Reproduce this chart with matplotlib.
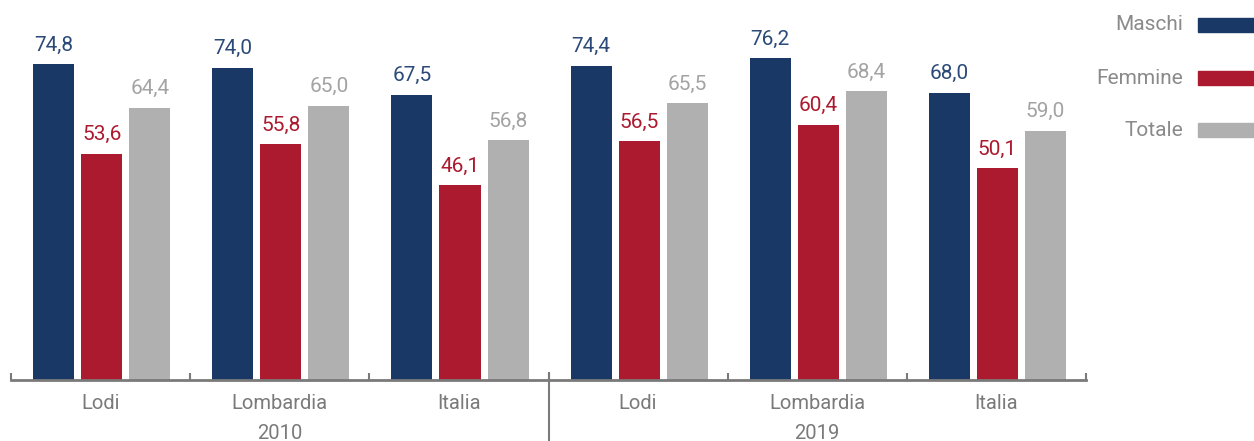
import matplotlib.pyplot as plt
from matplotlib.patches import Rectangle
import numpy as np

plt.rcParams['font.family'] = ['Roboto', 'DejaVu Sans']

places = ["Lodi", "Lombardia", "Italia", "Lodi", "Lombardia", "Italia"]
years = ["2010", "2019"]
series = ["Maschi", "Femmine", "Totale"]
maschi = [74.8, 74.0, 67.5, 74.4, 76.2, 68.0]
femmine = [53.6, 55.8, 46.1, 56.5, 60.4, 50.1]
totale = [64.4, 65.0, 56.8, 65.5, 68.4, 59.0]

bar_colors = ["#1a3865", "#ab1a2f", "#b0b0b0"]
text_colors = ["#2c4a78", "#ab1a2f", "#a3a3a3"]
axis_col = "#7a7a7a"

W, H = 1254, 441
fig = plt.figure(figsize=(W / 100, H / 100), dpi=100)
ax = fig.add_axes([11 / W, 61 / H, 1075 / W, 380 / H])

x = np.arange(len(places)) + 0.006
width = 41 / 179
step = 48 / 179
for k, vals in enumerate([maschi, femmine, totale]):
    pos = x + (k - 1) * step
    ax.bar(pos, vals, width, color=bar_colors[k], zorder=2)
    for p, v in zip(pos, vals):
        ax.text(p, v + 2.3, f"{v:.1f}".replace(".", ","), ha="center", va="bottom",
                fontsize=15, color=text_colors[k])

ax.set_xlim(-0.5, len(places) - 0.5)
ax.set_ylim(0, 90)
for s in ["top", "right", "left"]:
    ax.spines[s].set_visible(False)
ax.spines["bottom"].set_color(axis_col)
ax.spines["bottom"].set_linewidth(2)
ax.set_yticks([])
ax.set_xticks(np.arange(-0.5, len(places)))
ax.set_xticklabels([])
ax.tick_params(axis="x", direction="in", length=5, width=1.5, color=axis_col)

for i, name in enumerate(places):
    ax.text(i, -5.5, name, ha="center", va="center", fontsize=14.5, color=axis_col,
            clip_on=False)
for j, yr in enumerate(years):
    ax.text(1 + 3 * j, -12.6, yr, ha="center", va="center", fontsize=14.5, color=axis_col,
            clip_on=False)

# divider between the two years
ax.plot([2.5, 2.5], [1.6, -16], color=axis_col, lw=1.5, clip_on=False)

# legend on the right
for k, name in enumerate(series):
    yc = 1 - [25, 78, 130][k] / H
    fig.text(1183 / W, yc, name, ha="right", va="center", fontsize=15, color="#8a8a8a")
    fig.patches.append(Rectangle((1198 / W, yc - 7 / H), 56 / W, 14 / H,
                                 transform=fig.transFigure, color=bar_colors[k]))

fig.savefig("out.png", dpi=100)
